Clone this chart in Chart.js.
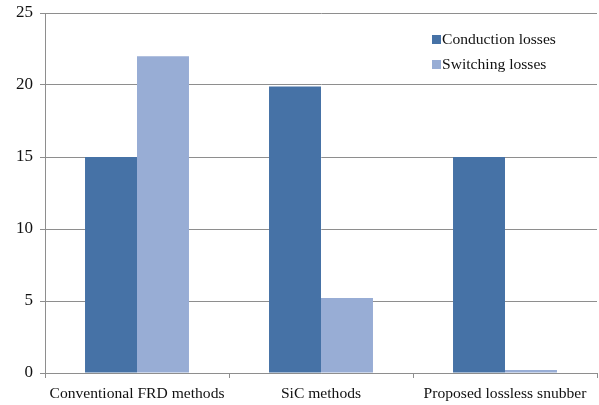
<!DOCTYPE html>
<html>
<head>
<meta charset="utf-8">
<script src="https://cdn.jsdelivr.net/npm/chart.js@4/dist/chart.umd.min.js"></script>
<style>
  html, body { margin: 0; padding: 0; background: #fff; }
  #wrap { width: 599px; height: 405px; }
</style>
</head>
<body>
<div id="wrap"><canvas id="c" width="599" height="405"></canvas></div>
<script>
const categories = ["Conventional FRD methods", "SiC methods", "Proposed lossless snubber"];
const conductionLosses = [15, 19.9, 15];
const switchingLosses = [22, 5.2, 0.2];
const seriesNames = ["Conduction losses", "Switching losses"];
const yTicks = [0, 5, 10, 15, 20, 25];

const FONT = "'Liberation Serif', 'Times New Roman', serif";
const GRID = "#8e8e8e";

// Legend drawn inside the plot area, top-right
const innerLegend = {
  id: 'innerLegend',
  afterDraw(chart) {
    const ctx = chart.ctx;
    ctx.save();
    ctx.font = "15.6px " + FONT;
    ctx.textBaseline = 'middle';
    ctx.textAlign = 'left';
    const x = 432, ys = [39, 64];
    chart.data.datasets.forEach((ds, i) => {
      ctx.fillStyle = ds.backgroundColor;
      ctx.fillRect(x, ys[i] - 4, 9, 9);
      ctx.fillStyle = '#111';
      ctx.fillText(ds.label, x + 10, ys[i] + 1);
    });
    ctx.restore();
  }
};

new Chart(document.getElementById('c'), {
  type: 'bar',
  data: {
    labels: categories,
    datasets: [
      { label: seriesNames[0], data: conductionLosses, backgroundColor: '#4672a6' },
      { label: seriesNames[1], data: switchingLosses, backgroundColor: '#98add5' }
    ]
  },
  options: {
    responsive: false,
    animation: false,
    devicePixelRatio: 1,
    layout: { padding: { top: 13, right: 2, left: 0, bottom: 0 } },
    datasets: { bar: { categoryPercentage: 0.565, barPercentage: 1.0 } },
    plugins: { legend: { display: false }, tooltip: { enabled: false } },
    scales: {
      x: {
        grid: { display: true, drawOnChartArea: false, drawTicks: true, tickLength: 5, color: GRID, offset: true },
        border: { display: true, color: GRID, width: 1 },
        ticks: { color: '#111', font: { family: FONT, size: 15.6 }, padding: 7, maxRotation: 0, autoSkip: false },
        afterFit(scale) { scale.height = 32; scale.paddingLeft = 0; scale.paddingRight = 0; }
      },
      y: {
        min: 0, max: 25,
        afterBuildTicks(scale) { scale.ticks = yTicks.map(v => ({ value: v })); },
        grid: { color: GRID, lineWidth: 1, tickLength: 5, drawTicks: true },
        border: { display: true, color: GRID, width: 1 },
        ticks: { color: '#111', font: { family: FONT, size: 17 }, padding: 7 },
        afterFit(scale) { scale.width = 45; scale.paddingTop = 0; scale.paddingBottom = 0; }
      }
    }
  },
  plugins: [innerLegend]
});
</script>
</body>
</html>
